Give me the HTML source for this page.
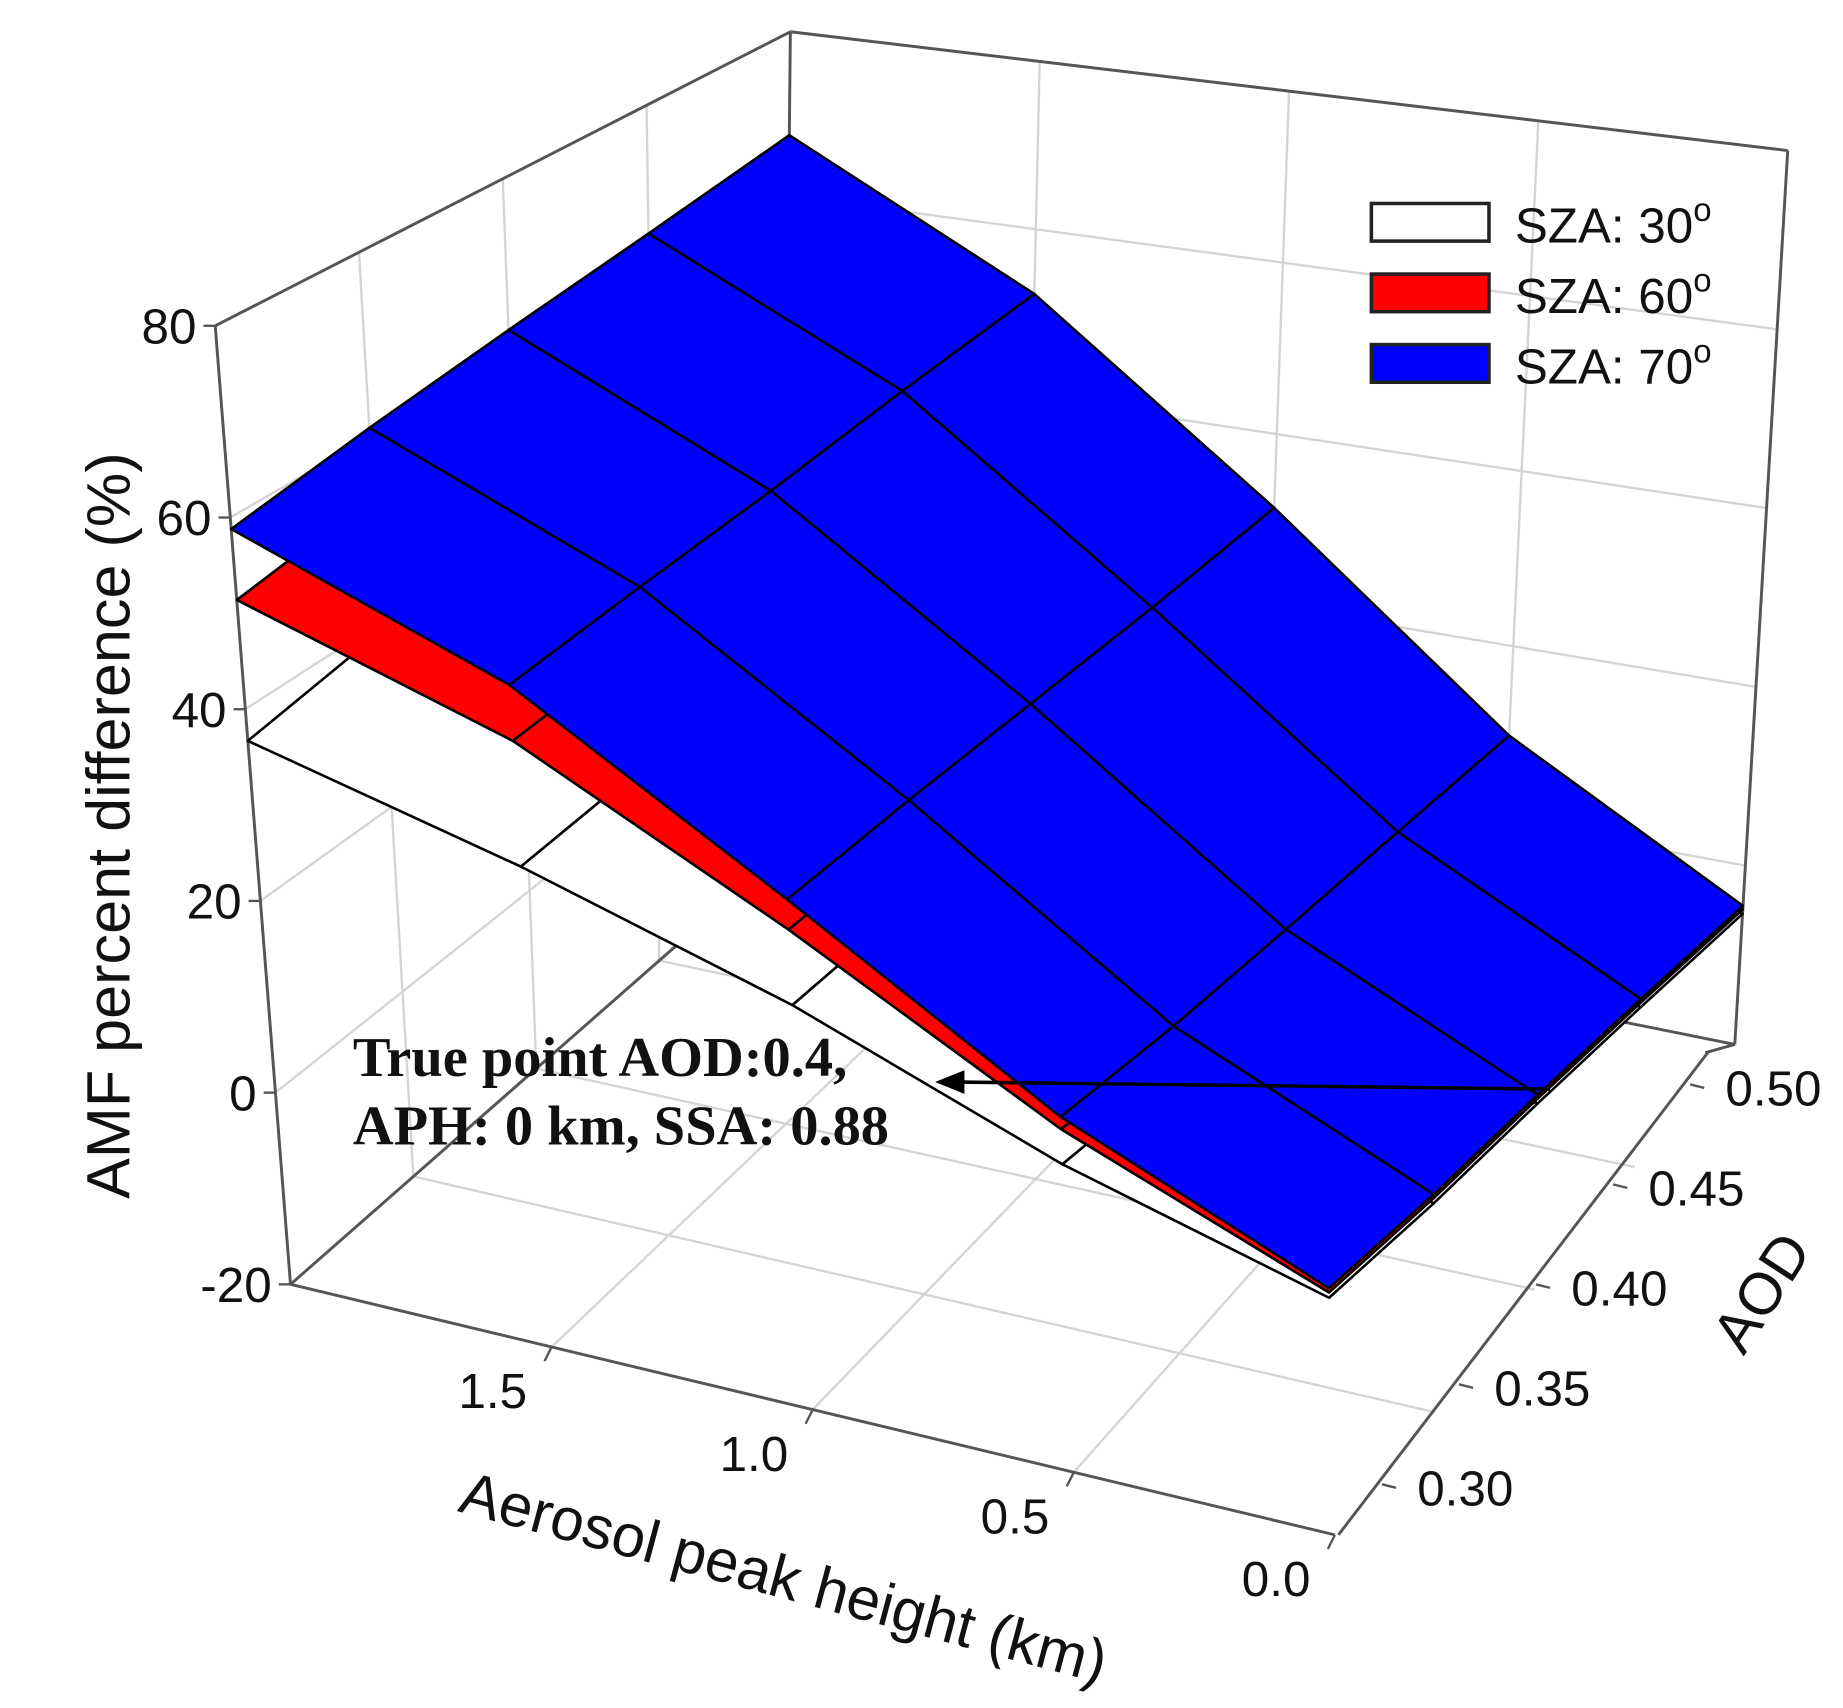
<!DOCTYPE html>
<html><head><meta charset="utf-8"><style>
html,body{margin:0;padding:0;background:#fff;}
svg{display:block;}
text{font-family:"Liberation Sans",sans-serif;fill:#111;}
</style></head><body>
<svg id="chart" width="1843" height="1708" viewBox="0 0 1567 1452.2" preserveAspectRatio="none" xmlns="http://www.w3.org/2000/svg">
<g id="grid"></g>
<g id="box"></g>
<g id="surfaces"></g>
<g id="axes"></g>
<text transform="translate(110,702) rotate(-90)" text-anchor="middle" font-size="52">AMF percent difference (%)</text>
<text transform="translate(662,1358) rotate(15)" text-anchor="middle" font-size="51">Aerosol peak height (km)</text>
<text transform="translate(1512,1108) rotate(-57)" text-anchor="middle" font-size="50">AOD</text>
<g>
<text x="300" y="915" font-size="48" font-weight="bold" style="font-family:'Liberation Serif',serif">True point AOD:0.4,</text>
<text x="300" y="973" font-size="48" font-weight="bold" style="font-family:'Liberation Serif',serif">APH: 0 km, SSA: 0.88</text>
<line x1="1318" y1="926" x2="815" y2="920" stroke="#000" stroke-width="3"/>
<polygon points="795,920 820,910 820,930" fill="#000"/>
</g>
<g id="legend"></g>
</svg>
<script>
const aph = [0, 0.5, 1.0, 1.5, 2.0];
const aod = [0.30, 0.35, 0.40, 0.45, 0.50];
// rows: aod, cols: aph
const sza70 = [
 [3.4, 14.5, 30.7, 47.4, 58.8],
 [1.5, 13.0, 31.0, 48.5, 61.0],
 [0.0, 12.0, 31.0, 49.5, 63.0],
 [-2.0, 11.0, 31.0, 51.0, 65.0],
 [-4.5, 9.8, 31.4, 52.3, 67.4]];
const sza60 = [
 [3.0, 13.3, 27.7, 41.7, 51.4],
 [1.1, 11.8, 28.0, 42.8, 53.6],
 [-0.4, 10.8, 28.0, 43.8, 55.6],
 [-2.4, 9.8, 28.0, 45.3, 57.6],
 [-4.9, 8.6, 28.4, 46.6, 60.0]];
const sza30 = [
 [2.5, 9.9, 20.2, 28.9, 36.7],
 [0.6, 8.4, 20.5, 30.0, 39.0],
 [-0.9, 7.4, 20.5, 31.0, 41.0],
 [-2.9, 6.4, 20.5, 32.5, 43.0],
 [-5.4, 5.2, 20.9, 33.8, 45.4]];
const zTicks = [-20, 0, 20, 40, 60, 80];
const aphTicks = ["1.5", "1.0", "0.5", "0.0"];
const aphTickVals = [1.5, 1.0, 0.5, 0.0];
const aodTicks = ["0.30", "0.35", "0.40", "0.45", "0.50"];
const aodTickVals = [0.30, 0.35, 0.40, 0.45, 0.50];
const seriesNames = ["SZA: 30", "SZA: 60", "SZA: 70"];

const NS = "http://www.w3.org/2000/svg";
const B = {"00":[1135,1305],"20":[247,1092],"01":[1475,888],"21":[665,725]};
const T = {"00":[1113,409],"20":[183,277],"01":[1520,128],"21":[672,27]};
function bil(C, v, u){
  const x=(1-v)*(1-u)*C["00"][0]+v*(1-u)*C["20"][0]+(1-v)*u*C["01"][0]+v*u*C["21"][0];
  const y=(1-v)*(1-u)*C["00"][1]+v*(1-u)*C["20"][1]+(1-v)*u*C["01"][1]+v*u*C["21"][1];
  return [x,y];
}
function P(a, d, z){
  const v=a/2, u=(d-0.30)/0.20, t=(z+20)/100;
  const b=bil(B,v,u), tp=bil(T,v,u);
  return [b[0]+(tp[0]-b[0])*t, b[1]+(tp[1]-b[1])*t];
}
function mk(tag, attrs, parent){
  const e=document.createElementNS(NS,tag);
  for(const k in attrs) e.setAttribute(k, attrs[k]);
  parent.appendChild(e); return e;
}
function line(p,q,stroke,w,parent){
  return mk("line",{x1:p[0],y1:p[1],x2:q[0],y2:q[1],stroke:stroke,"stroke-width":w},parent);
}
const grid=document.getElementById("grid");
const GC="#d4d4d4";
[0.5,1.0,1.5].forEach(a=>{ const l=line(P(a,0.30,-20),P(a,0.50,-20),GC,2,grid);

 });
[0.35,0.40,0.45].forEach(d=>{ const l=line(P(0,d,-20),P(2,d,-20),GC,2,grid);

 });
[0,20,40,60].forEach(z=>{
  let l=line(P(0,0.5,z),P(2,0.5,z),GC,2,grid);
  
  
  l=line(P(2,0.3,z),P(2,0.5,z),GC,2,grid);
  
  
});
[0.5,1.0,1.5].forEach(a=>{ const l=line(P(a,0.5,-20),P(a,0.5,80),GC,2,grid);

 });
[0.35,0.40,0.45].forEach(d=>{ const l=line(P(2,d,-20),P(2,d,80),GC,2,grid);

 });
const box=document.getElementById("box");
const BC="#555";
[[P(2,.3,-20),P(2,.3,80)],[P(2,.3,80),P(2,.5,80)],[P(2,.5,80),P(0,.5,80)],[P(0,.5,80),P(0,.5,-20)],
 [P(2,.5,80),P(2,.5,-20)],[P(2,.3,-20),P(0,.3,-20)],
 [P(2,.3,-20),P(2,.5,-20)],[P(2,.5,-20),P(0,.5,-20)],[P(0,.5,-20),[1450,895]]].forEach(s=>{
  const l=line(s[0],s[1],BC,2.5,box);
  
  
});
const surf=document.getElementById("surfaces");
function drawSurface(Z, fill, name){
  const g=mk("g",{},surf);
  
  
  for(let i=aod.length-2;i>=0;i--){
    for(let j=aph.length-2;j>=0;j--){
      const pts=[P(aph[j],aod[i],Z[i][j]),P(aph[j+1],aod[i],Z[i][j+1]),P(aph[j+1],aod[i+1],Z[i+1][j+1]),P(aph[j],aod[i+1],Z[i+1][j])];
      const q=mk("polygon",{points:pts.map(p=>p.join(",")).join(" "),fill:fill,stroke:"#000","stroke-width":2.2,"stroke-linejoin":"round"},g);
      
      
    }
  }
}
drawSurface(sza30,"#ffffff","surface-sza30");
drawSurface(sza60,"#ff0000","surface-sza60");
drawSurface(sza70,"#0000ff","surface-sza70");
const ax=document.getElementById("axes");
zTicks.forEach(z=>{
  const p=P(2,0.3,z);
  let l=line([p[0]-10,p[1]],p,BC,2,ax);
  
  
  const t=mk("text",{x:p[0]-16,y:p[1]+15,"text-anchor":"end","font-size":42},ax);
  t.textContent=String(z);
  
  
});
aphTickVals.forEach((a,k)=>{
  const p=P(a,0.3,-20);
  let l=line(p,[p[0]-6,p[1]+12],BC,2,ax);
  
  
  const t=mk("text",{x:p[0]-50,y:p[1]+52,"text-anchor":"middle","font-size":42},ax);
  t.textContent=aphTicks[k];
  
  
});
const a0=[1175,1262], a1=[1437,922];
let al=line([1138,1305],[1452,895],BC,2.5,ax);


aodTickVals.forEach((d,k)=>{
  const f=(d-0.30)/0.20;
  const p=[a0[0]+(a1[0]-a0[0])*f, a0[1]+(a1[1]-a0[1])*f];
  let l=line(p,[p[0]+12,p[1]+3],BC,2,ax);
  
  
  const t=mk("text",{x:p[0]+30,y:p[1]+18,"text-anchor":"start","font-size":42},ax);
  t.textContent=aodTicks[k];
  
  
});
const lg=document.getElementById("legend");
const lcol=["#ffffff","#ff0000","#0000ff"];
seriesNames.forEach((n,k)=>{
  const y=173+k*60;
  const r=mk("rect",{x:1166,y:y,width:100,height:32,fill:lcol[k],stroke:"#222","stroke-width":3},lg);
  
  
  const t=mk("text",{x:1288,y:y+33,"font-size":42},lg);
  t.textContent=n;
  
  
  const s=mk("tspan",{dy:-18,"font-size":28},t);
  s.textContent="o";
});
</script>
</body></html>
